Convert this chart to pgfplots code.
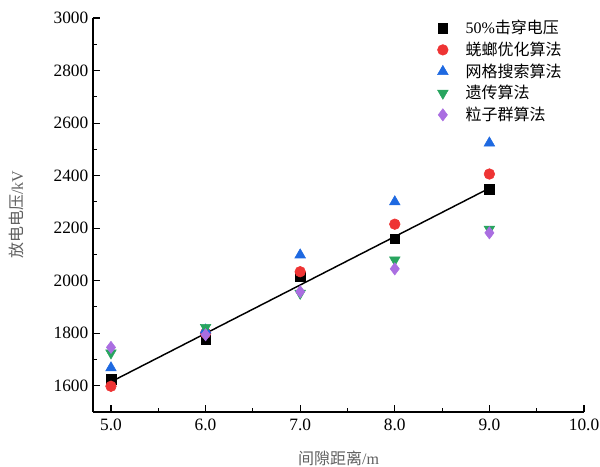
\documentclass[border=0pt]{standalone}
\usepackage{fontspec}
\setmainfont{Liberation Serif}
\newfontfamily\cjk{Noto Sans CJK SC}
\usepackage{pgfplots}
\pgfplotsset{compat=1.18}
\definecolor{cred}{RGB}{238,52,52}
\definecolor{cblue}{RGB}{30,105,225}
\definecolor{cgreen}{RGB}{40,165,95}
\definecolor{cpurple}{RGB}{170,110,225}
\definecolor{lblgray}{RGB}{95,95,95}
\begin{document}
\begin{tikzpicture}
\path[use as bounding box] (-69.75pt,-41.25pt) rectangle (380.25pt,309pt);
\begin{axis}[
  scale only axis,
  width=368.25pt, height=295.5pt,
  xmin=4.81, xmax=10, ymin=1500, ymax=3000,
  axis x line*=bottom, axis y line*=left,
  axis line style={line width=0.9pt},
  tick align=inside,
  major tick length=5pt, minor tick length=3pt,
  every tick/.style={line width=0.8pt, black},
  xtick={5,6,7,8,9,10},
  xticklabels={5.0,6.0,7.0,8.0,9.0,10.0},
  minor xtick={5.5,6.5,7.5,8.5,9.5},
  ytick={1600,1800,2000,2200,2400,2600,2800,3000},
  minor ytick={1500,1700,1900,2100,2300,2500,2700,2900},
  /pgf/number format/assume math mode=true,
  /pgf/number format/1000 sep={},
  tick label style={font=\fontsize{13}{15}\selectfont, black},
  xticklabel style={yshift=-2pt},
  xlabel={{\cjk 间隙距离}/m},
  ylabel={{\cjk 放电电压}/kV},
  label style={font=\fontsize{12}{14}\selectfont, text=lblgray},
  xlabel style={at={(axis description cs:0.5,-0.117)}, anchor=center},
  ylabel style={at={(axis description cs:-0.155,0.5)}, anchor=center},
  legend style={at={(axis description cs:0.693,1.008)}, anchor=north west,
    draw=none, fill=none, font=\fontsize{12}{13}\selectfont\cjk,
    row sep=0.6pt, column sep=11pt},
  legend cell align=left,
  clip=false,
]
\addplot[line width=1.1pt, black, forget plot] coordinates {(5,1615) (9,2352)};
\addplot[only marks, mark=square*, mark size=3.6pt, black] coordinates {
(5,1625) (6,1775) (7,2015) (8,2160) (9,2349)};
\addlegendentry{{\fontspec{Liberation Serif}50\%}击穿电压}
\addplot[only marks, mark=*, mark size=4pt, cred, mark options={draw=cred, fill=cred}] coordinates {
(5,1598) (6,1800) (7,2034) (8,2215) (9,2406)};
\addlegendentry{蜣螂优化算法}
\addplot[only marks, mark=triangle*, mark size=4.6pt, cblue, mark options={draw=cblue, fill=cblue}] coordinates {
(5,1668) (6,1812) (7,2098) (8,2300) (9,2524)};
\addlegendentry{网格搜索算法}
\addplot[only marks, mark=triangle*, mark size=4.6pt, cgreen, mark options={draw=cgreen, fill=cgreen, rotate=180}] coordinates {
(5,1725) (6,1822) (7,1952) (8,2079) (9,2196)};
\addlegendentry{遗传算法}
\addplot[only marks, mark=diamond*, mark size=4.6pt, cpurple, mark options={draw=cpurple, fill=cpurple}] coordinates {
(5,1746) (6,1794) (7,1958) (8,2045) (9,2182)};
\addlegendentry{粒子群算法}
\end{axis}
\end{tikzpicture}
\end{document}
